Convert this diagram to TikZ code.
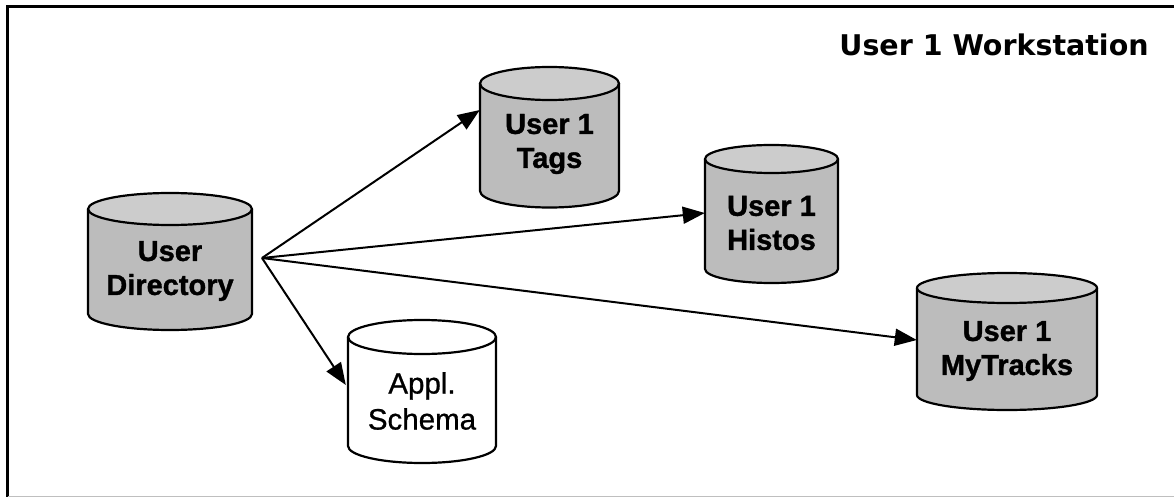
\documentclass[tikz,border=0pt]{standalone}
\usepackage{fontspec}
\setmainfont{Liberation Sans}
\newfontfamily\heavyfont{Liberation Sans Bold}[FakeBold=1.2]
\newfontfamily\medfont{Liberation Sans}[FakeBold=0.8]
\newfontfamily\titlefont{DejaVu Sans}
\usetikzlibrary{arrows.meta,calc}
\definecolor{cylbody}{RGB}{188,188,188}
\definecolor{cyltop}{RGB}{204,204,204}
\tikzset{
  cylline/.style={draw=black,line width=2.2pt},
  lbl/.style={inner sep=0pt,align=center,font=\heavyfont\fontsize{29}{34}\selectfont},
  lblreg/.style={inner sep=0pt,align=center,font=\medfont\fontsize{29.5}{36}\selectfont},
  arr/.style={line width=2pt,-{Triangle[length=22pt,width=17pt]}},
}
% #1 name, #2 cx, #3 top ellipse centre y, #4 bottom ellipse centre y, #5 rx, #6 ry, #7 body colour, #8 top colour, #9 text y
\newcommand\dbcyl[9]{%
  \fill[#7] (#2-#5,#3) -- (#2-#5,#4) arc[start angle=180,end angle=0,x radius=#5,y radius=#6] -- (#2+#5,#3) -- cycle;
  \fill[#8] (#2,#3) ellipse[x radius=#5,y radius=#6];
  \draw[cylline] (#2-#5,#3) -- (#2-#5,#4) arc[start angle=180,end angle=0,x radius=#5,y radius=#6] -- (#2+#5,#3);
  \draw[cylline] (#2,#3) ellipse[x radius=#5,y radius=#6];
  \coordinate (#1-c) at (#2,#9);
}
\begin{document}
\begin{tikzpicture}[x=1pt,y=-1pt]
\useasboundingbox (0,0) rectangle (1174,497);
\fill[white] (0,0) rectangle (1174,497);
% frame
\draw[line width=3pt] (7.5,497) -- (7.5,6.5) -- (1174,6.5);
\draw[line width=1pt,black!25] (7.5,496) -- (1174,496);
% title
\node[font=\titlefont\fontsize{28.5}{34}\selectfont\bfseries,inner sep=0pt] (title) at (994,45) {User 1 Workstation};
% cylinders
\dbcyl{ud}{170}{209}{314}{82}{16}{cylbody}{cyltop}{271}
\node[lbl,minimum width=164pt] (userdir) at (ud-c) {User\\Directory};
\dbcyl{tg}{549.5}{83.5}{191}{69.5}{16.5}{cylbody}{cyltop}{144}
\node[lbl,minimum width=139pt] (tags) at (tg-c) {User 1\\Tags};
\dbcyl{hs}{771.5}{159}{269}{66.5}{14}{cylbody}{cyltop}{223}
\node[lbl,minimum width=133pt] (histos) at (hs-c) {User 1\\Histos};
\dbcyl{mt}{1007}{288}{395}{90}{15}{cylbody}{cyltop}{351}
\node[lbl,minimum width=180pt] (mytracks) at (mt-c) {User 1\\MyTracks};
\dbcyl{ap}{422}{337}{446}{74}{17}{white}{white}{401}
\node[lblreg,minimum width=148pt] (appl) at (ap-c) {Appl.\\Schema};
% connectors
\coordinate (src) at (262,258);
\draw[arr] (src) -- ($(tags.west)+(0,-34)$);
\draw[arr] (src) -- ($(histos.west)+(0,-10)$);
\draw[arr] (src) -- ($(mytracks.west)+(0,-11)$);
\draw[arr] (src) -- ($(appl.west)+(-2,-16)$);
\end{tikzpicture}
\end{document}
